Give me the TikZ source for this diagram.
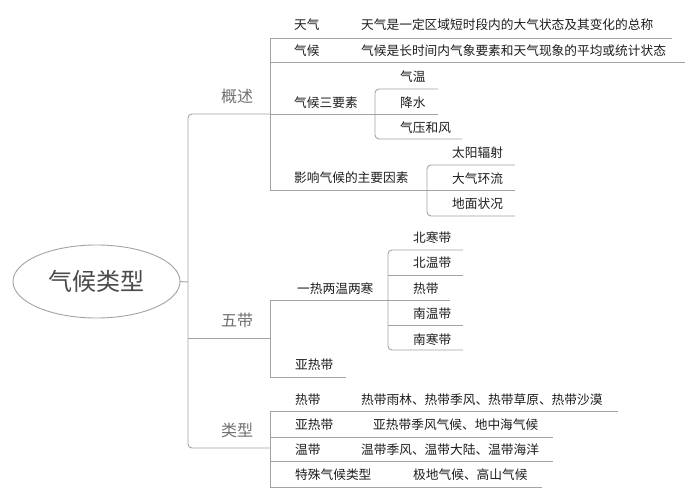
\documentclass[tikz,border=0pt]{standalone}
\usepackage{fontspec}
\setmainfont{Noto Sans CJK SC}
\usepackage{xcolor}
\usetikzlibrary{shapes.geometric}
\definecolor{linegray}{HTML}{A3A3A3}
\definecolor{topicgray}{HTML}{707070}
\definecolor{rootgray}{HTML}{4A4A4A}
\definecolor{leafblack}{HTML}{1E1E1E}

\begin{document}
\begin{tikzpicture}[x=1pt,y=-1pt,
  branch/.style={draw=linegray,line width=0.9pt},
  leaf/.style={anchor=west,inner sep=0pt,text=leafblack,
    font=\fontsize{12.7}{15}\selectfont},
  topic/.style={inner sep=0pt,text=topicgray,font=\fontsize{16}{19}\selectfont},
  rootnode/.style={ellipse,draw=linegray,line width=0.9pt,minimum width=167,
    minimum height=73,inner sep=0pt,text=rootgray,font=\fontsize{24}{28}\selectfont}]
  % Canvas: one unit is one pixel of the 697x500 frame.
  \fill[white] (0,0) rectangle (697,500);
  \useasboundingbox (0,0) rectangle (697,500);

  % Root and main spine.
  \node[rootnode] (root) at (96.5,281.5) {气候类型};
  \coordinate (spine) at (188,282);
  \coordinate (hubgs) at (270,114);
  \coordinate (hubwd) at (270,338);
  \coordinate (hublx) at (270,448);
  \draw[branch] (root.east) -- (spine);
  \draw[branch,rounded corners=4] (hubgs) -- (spine |- hubgs) -- (spine |- hublx) -- (hublx);
  \draw[branch] (spine |- hubwd) -- (hubwd);

  \node[topic] (gaishu) at (237,96) {概述};
  \node[topic] (wudai) at (237,320) {五带};
  \node[topic] (leixing) at (237,430) {类型};

  % Square brackets of the three topics.
  \draw[branch] (672,38) -- (270,38) -- (270,190) -- (515,190);
  \draw[branch] (450,300) -- (270,300) -- (270,377) -- (346,377);
  \draw[branch] (618,411) -- (270,411) -- (270,487) -- (542,487);

  % Rounded brackets of the sub-branches.
  \draw[branch,rounded corners=4] (438,89) -- (375,89) -- (375,139) -- (462,139);
  \draw[branch,rounded corners=4] (515,165) -- (427,165) -- (427,216) -- (515,216);
  \draw[branch,rounded corners=4] (463,250) -- (388,250) -- (388,350) -- (463,350);

  % Remaining underlines.
  \foreach \xa/\xb/\yy in {270/685/62,270/438/114,388/463/275,388/463/325,
                           270/553/437,270/553/461} {
    \draw[branch] (\xa,\yy) -- (\xb,\yy);
  }

  % Overview leaves.
  \foreach \nm/\xx/\yy/\txt in {
      tianqi/294/25/天气,
      tianqidef/361/25/天气是一定区域短时段内的大气状态及其变化的总称,
      qihou/294/51/气候,
      qihoudef/361/51/气候是长时间内气象要素和天气现象的平均或统计状态,
      sanys/294/103/气候三要素,
      qiwen/400/77/气温,
      jiangshui/400/103/降水,
      qiya/400/128/气压和风,
      yingxiang/294/178/影响气候的主要因素,
      taiyang/452/153/太阳辐射,
      huanliu/452/179/大气环流,
      dimian/452/204/地面状况} {
    \node[leaf] (\nm) at (\xx,\yy) {\txt};
  }

  % Five zones.
  \foreach \nm/\xx/\yy/\txt in {
      yire/297/289/一热两温两寒,
      beihan/413/238/北寒带,
      beiwen/413/263/北温带,
      redai/413/289/热带,
      nanwen/413/314/南温带,
      nanhan/413/340/南寒带,
      yare/295/365/亚热带} {
    \node[leaf] (\nm) at (\xx,\yy) {\txt};
  }

  % Climate types.
  \foreach \nm/\xx/\yy/\txt in {
      lxre/295/400/热带,
      lxredef/361/400/热带雨林、热带季风、热带草原、热带沙漠,
      lxya/295/425/亚热带,
      lxyadef/373/425/亚热带季风气候、地中海气候,
      lxwen/295/450/温带,
      lxwendef/361/450/温带季风、温带大陆、温带海洋,
      lxte/295/475/特殊气候类型,
      lxtedef/413/475/极地气候、高山气候} {
    \node[leaf] (\nm) at (\xx,\yy) {\txt};
  }
\end{tikzpicture}
\end{document}
